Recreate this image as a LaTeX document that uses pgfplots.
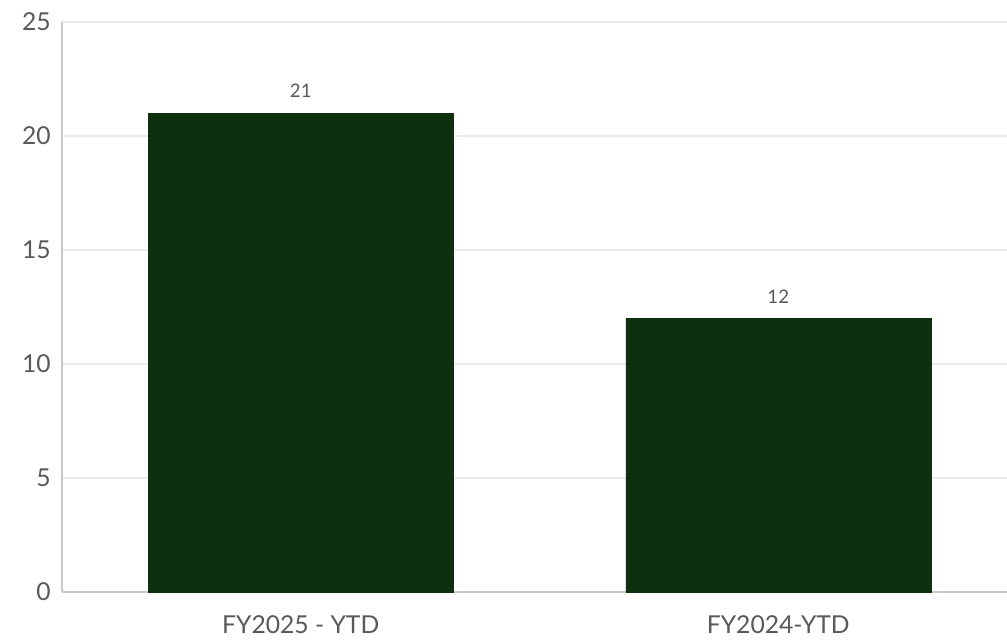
\documentclass[border=0pt]{standalone}
\usepackage{pgfplots}
\pgfplotsset{compat=1.18}
\usetikzlibrary{calc}
\usepackage{fontspec}
\setmainfont{Lato}
\definecolor{bargreen}{HTML}{0F300F}
\definecolor{gridc}{HTML}{EBEBEB}
\definecolor{axc}{HTML}{C8C8C8}
\definecolor{txt}{HTML}{595959}
\begin{document}
\begin{tikzpicture}[x=1pt,y=1pt]
\begin{axis}[
  name=ax,
  scale only axis,
  width=708.75pt, height=427.5pt,
  xmin=-0.5, xmax=1.479,
  ymin=0, ymax=25,
  ytick={0,5,10,15,20,25},
  xtick={0,1},
  xticklabels={FY2025 - YTD, FY2024-YTD},
  axis x line=bottom, axis y line=left,
  axis line style={axc, line width=1.2pt, -},
  x axis line style={-}, y axis line style={-},
  major tick length=0pt,
  ymajorgrids, grid style={gridc, line width=1pt},
  tick label style={txt, font=\fontsize{18.5}{22}\selectfont},
  /pgf/number format/assume math mode=true,
  yticklabel style={xshift=-5pt},
  xticklabel style={yshift=-14pt},
  clip=false,
]
\addplot[ybar, bar width=228.75pt, fill=bargreen, draw=bargreen,
  nodes near coords,
  every node near coord/.append style={text=txt, font=\fontsize{14}{16}\selectfont, yshift=8pt}]
  coordinates {(0,21) (1,12)};
\end{axis}
\pgfresetboundingbox
\path ($(ax.south west)+(-46.5pt,-36pt)$) rectangle ($(ax.north east)+(0pt,16.5pt)$);
\end{tikzpicture}
\end{document}
